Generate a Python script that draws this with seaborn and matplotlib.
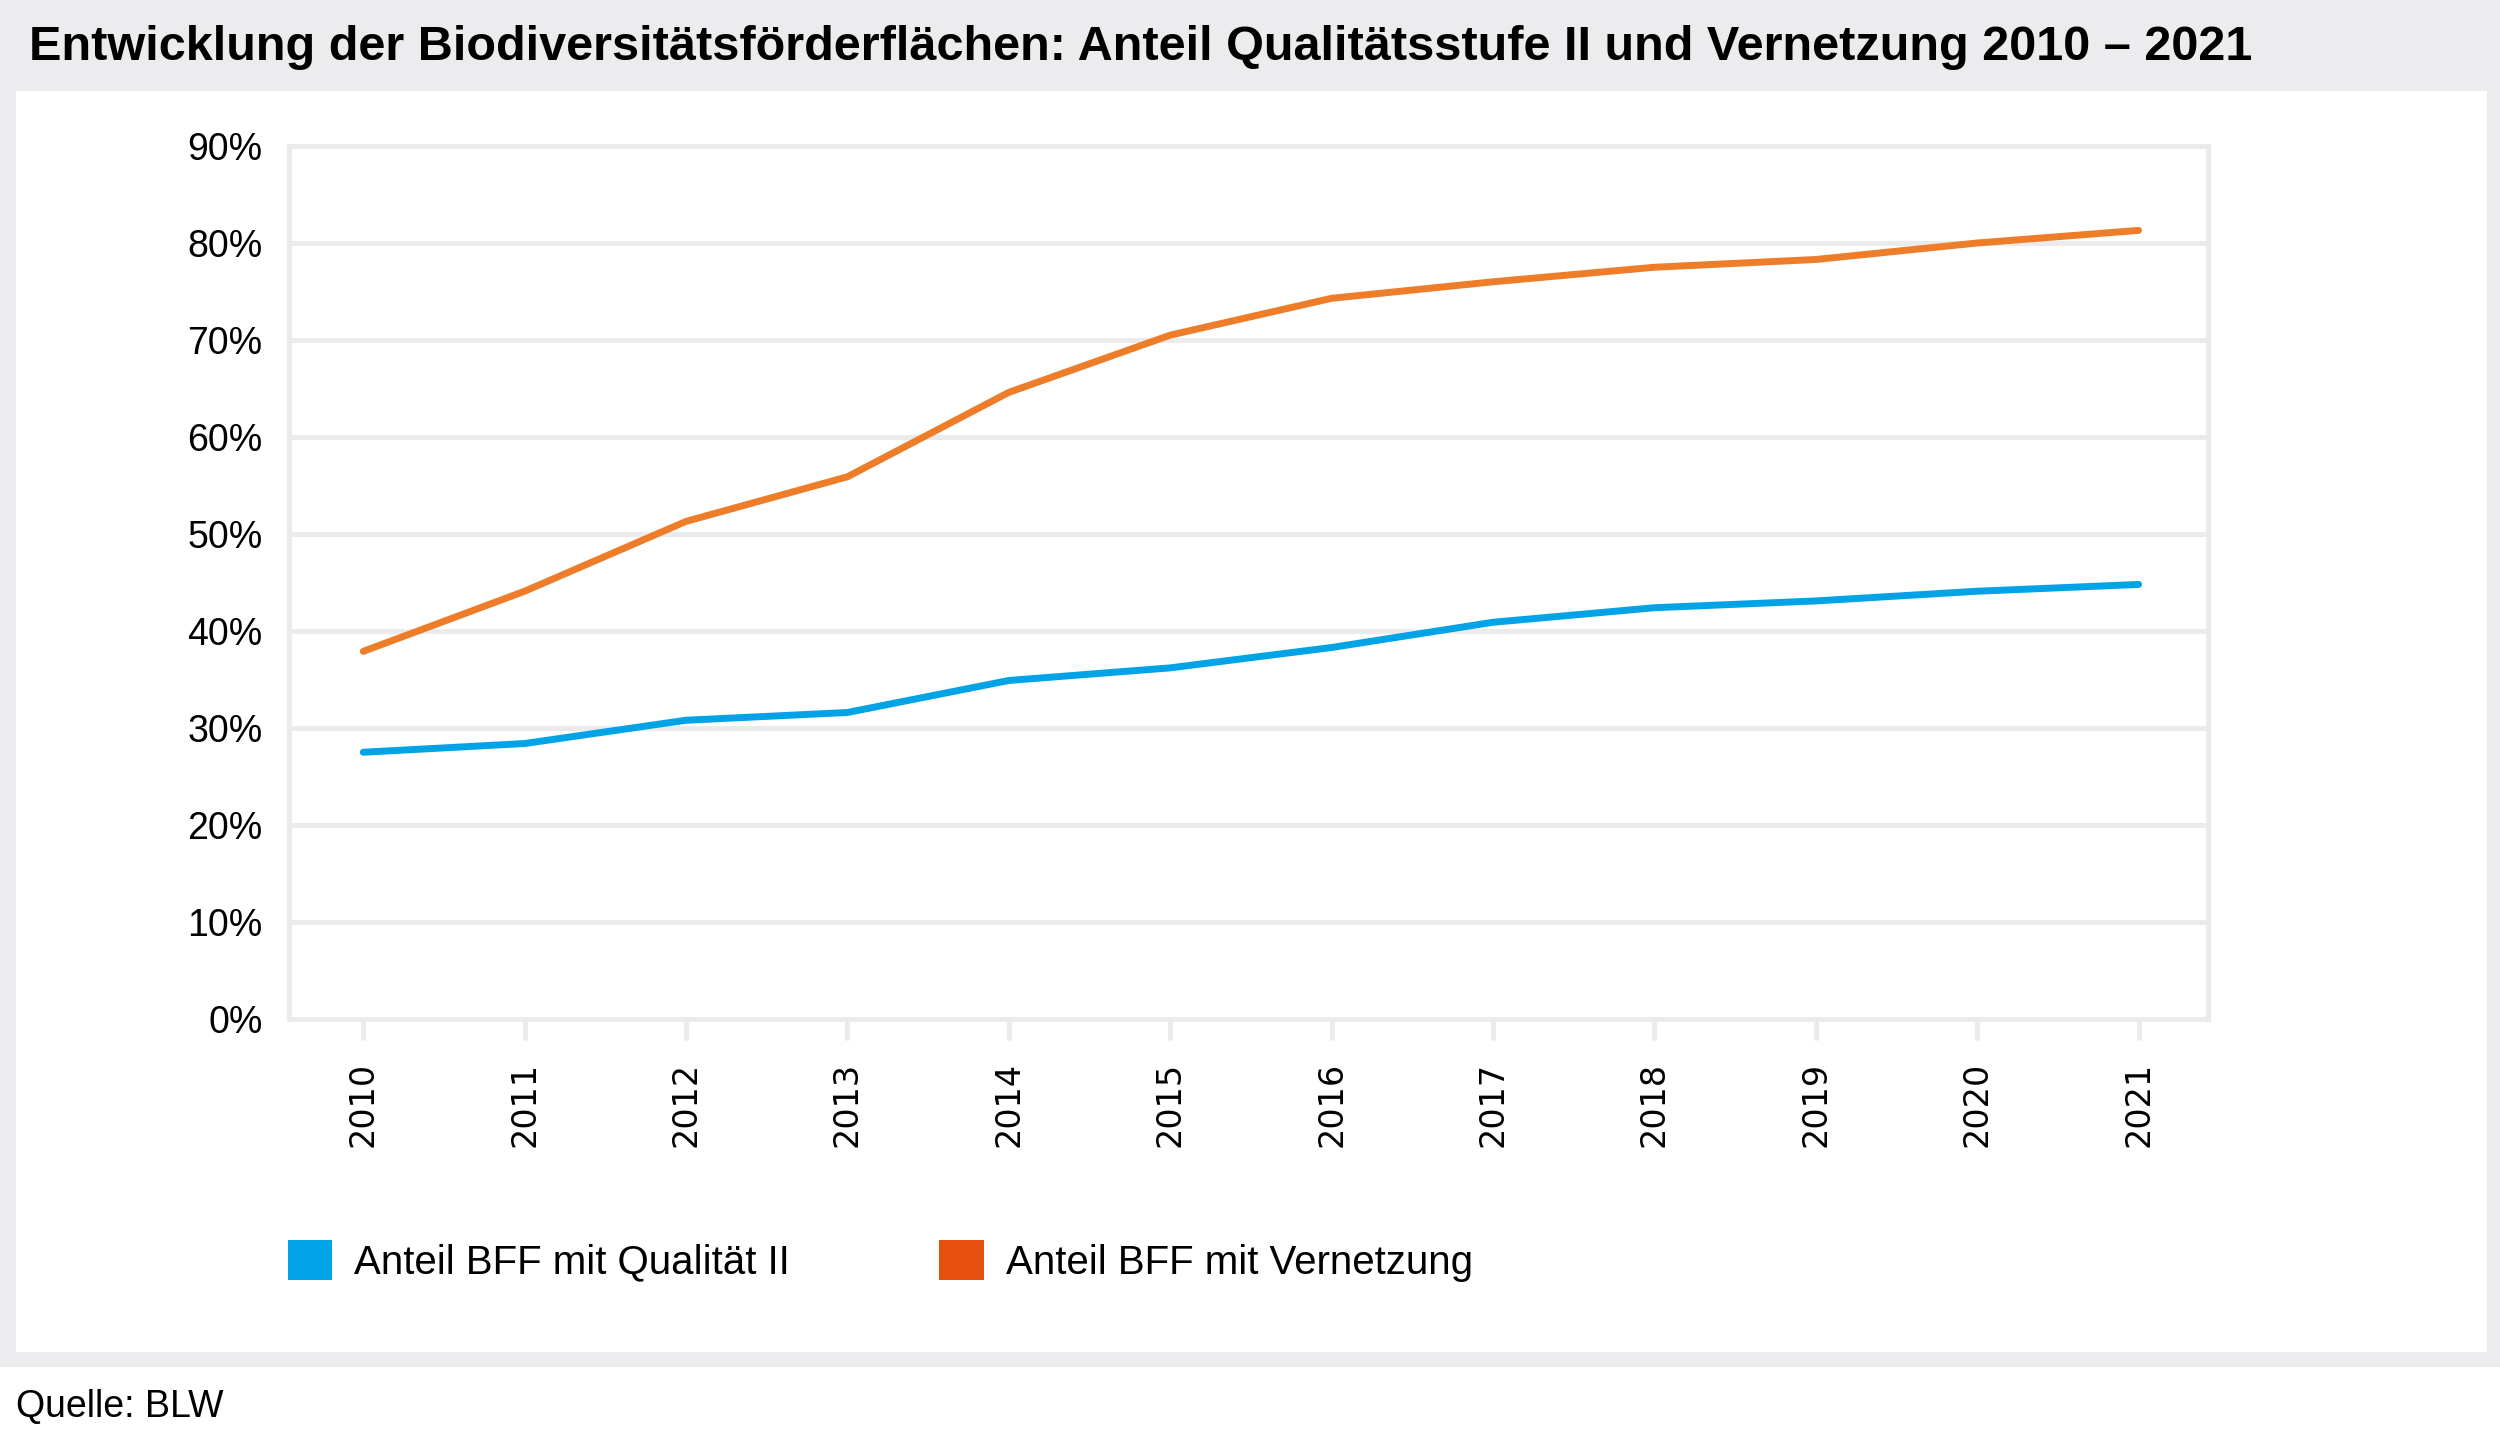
import matplotlib
matplotlib.use("Agg")
import matplotlib.pyplot as plt
import seaborn as sns
import pandas as pd
from matplotlib.patches import Rectangle, Patch

# ---- data ----
years = [2010, 2011, 2012, 2013, 2014, 2015, 2016, 2017, 2018, 2019, 2020, 2021]
qualitaet_ii = [27.5, 28.4, 30.8, 31.6, 34.9, 36.2, 38.3, 40.9, 42.4, 43.1, 44.1, 44.8]
vernetzung = [37.9, 44.1, 51.3, 55.9, 64.6, 70.5, 74.3, 76.0, 77.5, 78.3, 80.0, 81.3]
series_names = ["Anteil BFF mit Qualität II", "Anteil BFF mit Vernetzung"]
y_ticks = [0, 10, 20, 30, 40, 50, 60, 70, 80, 90]
y_tick_labels = [f"{v}%" for v in y_ticks]
title = "Entwicklung der Biodiversitätsförderflächen: Anteil Qualitätsstufe II und Vernetzung 2010 – 2021"
source = "Quelle: BLW"

line_colors = ["#00A3E6", "#EE7D2A"]
legend_colors = ["#00A3E6", "#E5500F"]
grid_color = "#EBEBEB"
band_color = "#ECECEE"

sns.set_theme(style="white")
plt.rcParams["font.family"] = ["Liberation Sans", "DejaVu Sans"]
plt.rcParams["text.color"] = "black"

W, H = 2500, 1448
DPI = 100
fig = plt.figure(figsize=(W / DPI, H / DPI), dpi=DPI, facecolor="white")

# gray frame and white panel (behind the axes)
fig.patches.append(Rectangle((0, (H - 1367) / H), 1, 1367 / H, transform=fig.transFigure,
                             facecolor=band_color, edgecolor="none", zorder=-10))
fig.patches.append(Rectangle((16 / W, (H - 1352) / H), (2487 - 16) / W, (1352 - 91) / H,
                             transform=fig.transFigure, facecolor="white", edgecolor="none",
                             zorder=-9))

ax = fig.add_axes([289 / W, (H - 1019) / H, (2208 - 289) / W, (1019 - 146) / H])
ax.set_zorder(1)
ax.set_facecolor("white")

df = pd.DataFrame({
    "Jahr": years * 2,
    "Wert": qualitaet_ii + vernetzung,
    "Serie": [series_names[0]] * len(years) + [series_names[1]] * len(years),
})
sns.lineplot(data=df, x="Jahr", y="Wert", hue="Serie", palette=line_colors,
             linewidth=5, legend=False, ax=ax, solid_capstyle="round", zorder=3)

ax.set_xlim(years[0] - 0.46, years[-1] + 0.43)
ax.set_ylim(0, 90)
ax.set_yticks(y_ticks)
ax.set_yticklabels(y_tick_labels)
ax.set_xticks(years)
ax.set_xticklabels([str(y) for y in years], rotation=90, fontsize=24,
                   family=["DejaVu Sans"])
ax.set_xlabel("")
ax.set_ylabel("")

ax.yaxis.grid(True, color=grid_color, linewidth=3.6)
ax.xaxis.grid(False)
ax.set_axisbelow(True)
for s in ax.spines.values():
    s.set_visible(True)
    s.set_color(grid_color)
    s.set_linewidth(3.6)
ax.tick_params(axis="y", length=0, pad=19, labelsize=27, labelcolor="black")
ax.tick_params(axis="x", direction="out", length=15, width=3.6, color=grid_color,
               pad=16, labelcolor="black", bottom=True)

# title
fig.text(29 / W, (H - 48) / H, title, fontsize=35, fontweight="bold", va="center",
         ha="left", color="black")

# legend
handles = [Patch(facecolor=c, edgecolor="none") for c in legend_colors]
fig.legend(handles, series_names, loc="upper left",
           bbox_to_anchor=(288 / W, (H - 1240) / H), ncol=2, frameon=False,
           fontsize=29, handlelength=1.1, handleheight=1.15, handletextpad=0.55,
           columnspacing=3.7, borderpad=0, borderaxespad=0, labelcolor="black")

fig.text(16 / W, (H - 1407) / H, source, fontsize=27, va="center", ha="left",
         color="black")

fig.savefig("out.png", dpi=DPI, facecolor="white")
